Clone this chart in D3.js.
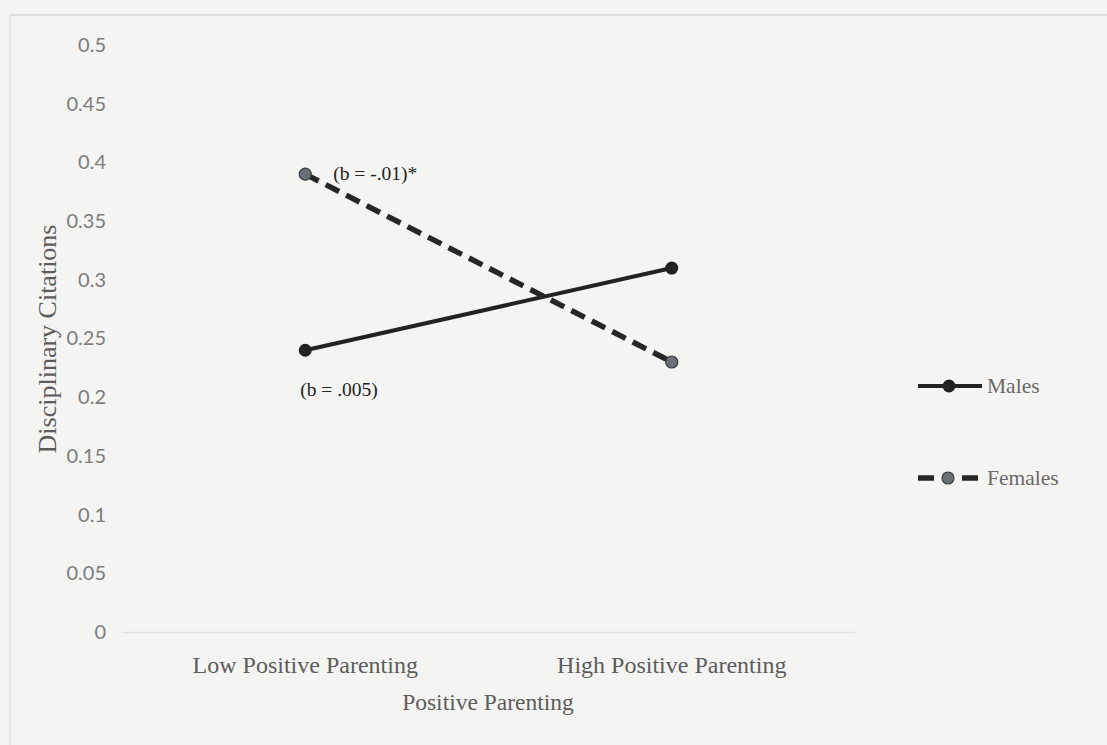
<!DOCTYPE html>
<html>
<head>
<meta charset="utf-8">
<script src="https://cdn.jsdelivr.net/npm/d3@7"></script>
<style>
  body { margin: 0; background: #f4f4f2; }
  svg { display: block; }
</style>
</head>
<body>
<svg id="chart"></svg>
<script>
// data
const categories = ["Low Positive Parenting", "High Positive Parenting"];
const seriesNames = ["Males", "Females"];
const males = [0.24, 0.31];
const females = [0.39, 0.23];
const yTicks = [0, 0.05, 0.1, 0.15, 0.2, 0.25, 0.3, 0.35, 0.4, 0.45, 0.5];
const slopeLabels = ["(b = .005)", "(b = -.01)*"];

const W = 1107, H = 745;
const serif = "'Liberation Serif', 'Times New Roman', serif";
const svg = d3.select("#chart").attr("width", W).attr("height", H);

// background + frame lines
svg.append("rect").attr("width", W).attr("height", H).attr("fill", "#f4f4f2");
svg.append("line").attr("x1", 10).attr("x2", W).attr("y1", 15).attr("y2", 15)
    .attr("stroke", "#dadada").attr("stroke-width", 1.5);
svg.append("line").attr("x1", 10).attr("x2", 10).attr("y1", 15).attr("y2", H)
    .attr("stroke", "#e0e0e0").attr("stroke-width", 1.5);

const xscale = d3.scaleBand().domain(categories).range([122, 855]);
const yscale = d3.scaleLinear().domain([0, 0.5]).range([632, 45]);
const xc = d => xscale(d) + xscale.bandwidth() / 2;

// y tick labels
const yaxis = d3.axisLeft(yscale).tickValues(yTicks).tickSize(0).tickPadding(0)
    .tickFormat(d => d3.format("")(d));
const yg = svg.append("g").attr("transform", "translate(106,0)").call(yaxis);
yg.select(".domain").remove();
yg.selectAll("text").attr("font-family", "Lato, 'Open Sans', sans-serif").attr("font-size", "20px")
    .attr("fill", "#7d7d7d");

// x axis baseline + category labels
const xaxis = d3.axisBottom(xscale).tickSize(0).tickPadding(24).tickSizeOuter(0);
const xg = svg.append("g").attr("transform", "translate(0,632)").call(xaxis);
xg.select(".domain").attr("stroke", "#e0e0e0").attr("stroke-width", 1.5);
xg.selectAll("text").attr("font-family", serif).attr("font-size", "24px")
    .attr("fill", "#5c5c5c");

// axis titles
svg.append("text").attr("x", 488).attr("y", 710).attr("text-anchor", "middle")
    .attr("font-family", serif).attr("font-size", "23.5px").attr("fill", "#5c5c5c")
    .text("Positive Parenting");
svg.append("text").attr("transform", "translate(56,339) rotate(-90)").attr("text-anchor", "middle")
    .attr("font-family", serif).attr("font-size", "26px").attr("fill", "#5c5c5c")
    .text("Disciplinary Citations");

const line = d3.line().x((d, i) => xc(categories[i])).y(d => yscale(d));

// males: solid dark
svg.append("path").datum(males).attr("d", line).attr("fill", "none")
    .attr("stroke", "#222").attr("stroke-width", 4);
svg.selectAll("circle.m").data(males).join("circle").attr("class", "m")
    .attr("cx", (d, i) => xc(categories[i])).attr("cy", d => yscale(d)).attr("r", 6.5)
    .attr("fill", "#222");

// females: dashed, gray markers
svg.append("path").datum(females).attr("d", line).attr("fill", "none")
    .attr("stroke", "#262626").attr("stroke-width", 5.5).attr("stroke-dasharray", "15,8");
svg.selectAll("circle.f").data(females).join("circle").attr("class", "f")
    .attr("cx", (d, i) => xc(categories[i])).attr("cy", d => yscale(d)).attr("r", 6)
    .attr("fill", "#6b7077").attr("stroke", "#3a3a3a").attr("stroke-width", 1.2);

// slope annotations
svg.append("text").attr("x", xc(categories[0]) - 5).attr("y", yscale(males[0]) + 46)
    .attr("font-family", serif).attr("font-size", "19.5px").attr("fill", "#222")
    .text(slopeLabels[0]);
svg.append("text").attr("x", xc(categories[0]) + 28).attr("y", yscale(females[0]) + 6)
    .attr("font-family", serif).attr("font-size", "19.5px").attr("fill", "#222")
    .text(slopeLabels[1]);

// legend
const legend = svg.append("g");
const legY = [386, 478];
seriesNames.forEach((name, i) => {
    const g = legend.append("g").attr("transform", `translate(918,${legY[i]})`);
    if (i === 0) {
        g.append("line").attr("x1", 0).attr("x2", 64).attr("stroke", "#222").attr("stroke-width", 4);
        g.append("circle").attr("cx", 31).attr("r", 6.5).attr("fill", "#222");
    } else {
        g.append("line").attr("x1", 0).attr("x2", 16).attr("stroke", "#262626").attr("stroke-width", 5.5);
        g.append("line").attr("x1", 44).attr("x2", 60).attr("stroke", "#262626").attr("stroke-width", 5.5);
        g.append("circle").attr("cx", 30).attr("r", 6).attr("fill", "#6b7077")
            .attr("stroke", "#3a3a3a").attr("stroke-width", 1.2);
    }
    g.append("text").attr("x", 69).attr("y", 7)
        .attr("font-family", serif).attr("font-size", "21.5px").attr("fill", "#6a6a6a")
        .text(name);
});
</script>
</body>
</html>
